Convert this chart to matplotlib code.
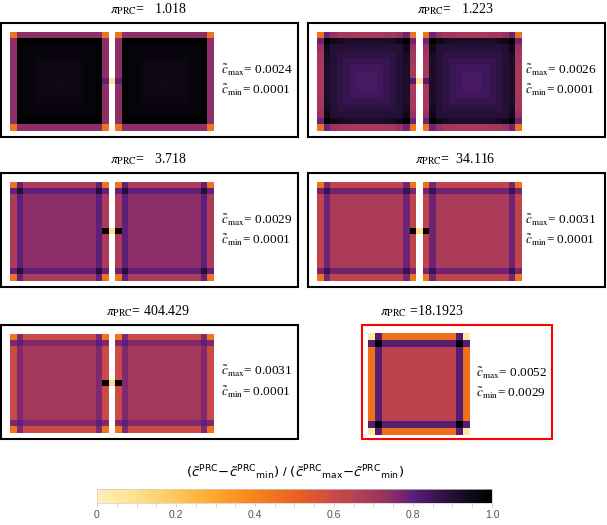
import numpy as np
import matplotlib
matplotlib.use("Agg")
import matplotlib.pyplot as plt
from matplotlib.colors import LinearSegmentedColormap
from matplotlib.patches import Rectangle
from matplotlib.cm import ScalarMappable
from matplotlib.colors import Normalize
from matplotlib.ticker import MultipleLocator

plt.rcParams['font.family'] = ['Liberation Serif', 'DejaVu Serif']
plt.rcParams['mathtext.fontset'] = 'stix'

# ---------------- data ----------------
N = 15
pi_labels = ['   1.018', '   1.223', '   3.718', '  34.116', ' 404.429', '18.1923']
cmax_labels = ['0.0024', '0.0026', '0.0029', '0.0031', '0.0031', '0.0052']
cmin_labels = ['0.0001', '0.0001', '0.0001', '0.0001', '0.0001', '0.0029']

# value along the outer border, by distance of the other index from edge (0 = corner)
edge_A = [0.45, 0.74, 0.74, 0.74, 0.74, 0.74, 0.74, 0.74]
edge_B = [0.45, 0.78, 0.72, 0.70, 0.70, 0.69, 0.69, 0.69]
edge_C = [0.45, 0.79, 0.68, 0.68, 0.68, 0.68, 0.68, 0.68]
edge_D = [0.45, 0.77, 0.63, 0.63, 0.63, 0.63, 0.63, 0.63]
edge_E = [0.44, 0.76, 0.60, 0.60, 0.60, 0.60, 0.60, 0.60]
edge_F = [0.05, 0.81, 0.46, 0.46, 0.46, 0.46, 0.46, 0.46]
# value along the second ring (first entry = ring crossing)
ring_A = [0.995, 0.99, 0.99, 0.99, 0.99, 0.99, 0.99]
ring_B = [1.00, 0.95, 0.93, 0.92, 0.92, 0.92, 0.92]
ring_C = [0.90, 0.80, 0.80, 0.80, 0.80, 0.80, 0.80]
ring_D = [0.86, 0.78, 0.78, 0.78, 0.78, 0.78, 0.78]
ring_E = [0.80, 0.76, 0.76, 0.76, 0.76, 0.76, 0.76]
ring_F = [1.00, 0.81, 0.81, 0.81, 0.81, 0.81, 0.81]
# interior values by depth (2 .. 7)
inner_A = [0.98, 0.97, 0.96, 0.955, 0.95, 0.945]
inner_B = [0.90, 0.88, 0.86, 0.845, 0.835, 0.83]
inner_C = [0.745, 0.745, 0.745, 0.745, 0.745, 0.745]
inner_D = [0.68, 0.68, 0.68, 0.68, 0.68, 0.68]
inner_E = [0.70, 0.70, 0.70, 0.70, 0.70, 0.70]
inner_F = [0.64, 0.64, 0.64, 0.64, 0.64, 0.64]
# connector cells: left square edge cell, gap cell, right square edge cell
conn_A = [0.80, 0.08, 0.80]
conn_B = [0.82, 0.08, 0.82]
conn_C = [1.00, 0.10, 1.00]
conn_D = [1.00, 0.10, 1.00]
conn_E = [1.00, 0.12, 1.00]

# colormap stops
cmap_pos = [0.0, 0.10, 0.20, 0.30, 0.40, 0.50, 0.60, 0.70, 0.75, 0.80, 0.85, 0.90, 0.95, 1.0]
cmap_hex = ['#fef0b8', '#fde08c', '#fec65a', '#fca72c', '#f7831a', '#e9641f', '#cc4a46',
            '#a5385c', '#8a2c6a', '#5e1f7a', '#3f1759', '#241136', '#100818', '#000000']
cmap = LinearSegmentedColormap.from_list('c', list(zip(cmap_pos, cmap_hex)))

W, H = 607, 525
fig = plt.figure(figsize=(W / 100, H / 100), dpi=100)
FS = 9.5


def frac(x0, y0, x1, y1):
    return [x0 / W, 1 - y1 / H, (x1 - x0) / W, (y1 - y0) / H]


def square(edge, ring, inner):
    idx = np.arange(N)
    k = np.minimum(idx, N - 1 - idx)
    m = np.zeros((N, N))
    for i in range(N):
        for j in range(N):
            a, b = min(k[i], k[j]), max(k[i], k[j])
            if a == 0:
                m[i, j] = edge[b]
            elif a == 1:
                m[i, j] = ring[b - 1]
            else:
                m[i, j] = inner[a - 2]
    return m


def pair(edge, ring, inner, conn):
    s = square(edge, ring, inner)
    left = s.copy()
    right = s.copy()
    mid = N // 2
    left[mid, N - 1] = conn[0]
    right[mid, 0] = conn[2]
    gap = np.full((N, 1), np.nan)
    gap[mid, 0] = conn[1]
    return np.hstack([left, gap, right])


panels = [
    dict(arr=pair(edge_A, ring_A, inner_A, conn_A), box=(1, 23, 298, 137), img=(10, 32, 214, 131),
         title=(148, 9), txt=(221, 70, 90), col='black', sp='='),
    dict(arr=pair(edge_B, ring_B, inner_B, conn_B), box=(308, 23, 605, 137), img=(317, 32, 521, 131),
         title=(455, 9), txt=(525, 70, 90), col='black', sp='='),
    dict(arr=pair(edge_C, ring_C, inner_C, conn_C), box=(1, 173, 298, 287), img=(10, 182, 214, 281),
         title=(148, 159), txt=(221, 220, 240), col='black', sp='='),
    dict(arr=pair(edge_D, ring_D, inner_D, conn_D), box=(308, 173, 605, 287), img=(317, 182, 521, 281),
         title=(455, 159), txt=(525, 220, 240), col='black', sp='='),
    dict(arr=pair(edge_E, ring_E, inner_E, conn_E), box=(1, 325, 298, 439), img=(10, 334, 214, 433),
         title=(148, 311), txt=(221, 371, 392), col='black', sp='='),
    dict(arr=square(edge_F, ring_F, inner_F), box=(362, 325, 552, 439), img=(368, 333, 470, 435),
         title=(422, 311), txt=(476, 373, 393), col='#ff0000', sp=' ='),
]

for p, lab, cx, cn in zip(panels, pi_labels, cmax_labels, cmin_labels):
    x0, y0, x1, y1 = p['box']
    fig.patches.append(Rectangle((x0 / W, 1 - y1 / H), (x1 - x0) / W, (y1 - y0) / H,
                                 transform=fig.transFigure, fill=False,
                                 edgecolor=p['col'], lw=1.5, zorder=0))
    ax = fig.add_axes(frac(*p['img']))
    ax.imshow(p['arr'], cmap=cmap, vmin=0, vmax=1, interpolation='nearest', aspect='auto')
    ax.set_axis_off()
    tx, ty = p['title']
    fig.text(tx / W, 1 - ty / H, r'$\pi_{\mathrm{PRC}}$' + p['sp'] + lab, ha='center', va='center',
             fontsize=FS + 0.5)
    x, ya, yb = p['txt']
    fig.text(x / W, 1 - ya / H, r'$\tilde{c}_{\mathrm{max}}$= ' + cx, ha='left', va='center', fontsize=FS)
    fig.text(x / W, 1 - yb / H, r'$\tilde{c}_{\mathrm{min}}$= ' + cn, ha='left', va='center', fontsize=FS)

# colorbar
cax = fig.add_axes(frac(97, 489, 492, 503))
cb = fig.colorbar(ScalarMappable(norm=Normalize(0, 1), cmap=cmap), cax=cax, orientation='horizontal')
cb.outline.set_edgecolor('#cccccc')
cb.outline.set_linewidth(0.5)
cb.set_ticks([0, 0.2, 0.4, 0.6, 0.8, 1.0])
cb.set_ticklabels(['0', '0.2', '0.4', '0.6', '0.8', '1.0'])
cax.xaxis.set_minor_locator(MultipleLocator(0.05))
cax.tick_params(which='both', length=3, width=0.6, color='#cccccc', labelcolor='#555555',
                labelsize=7.5, pad=2)
for t in cax.get_xticklabels():
    t.set_fontfamily('Liberation Sans')

fig.text(295 / W, 1 - 473 / H,
         r'$(\tilde{c}^{\mathrm{PRC}}\!-\!\tilde{c}^{\mathrm{PRC}}{}_{\mathrm{min}})$ / '
         r'$(\tilde{c}^{\mathrm{PRC}}{}_{\mathrm{max}}\!-\!\tilde{c}^{\mathrm{PRC}}{}_{\mathrm{min}})$',
         ha='center', va='center', fontsize=9.5, family='Liberation Sans', math_fontfamily='dejavusans')

fig.savefig('out.png', dpi=100)
